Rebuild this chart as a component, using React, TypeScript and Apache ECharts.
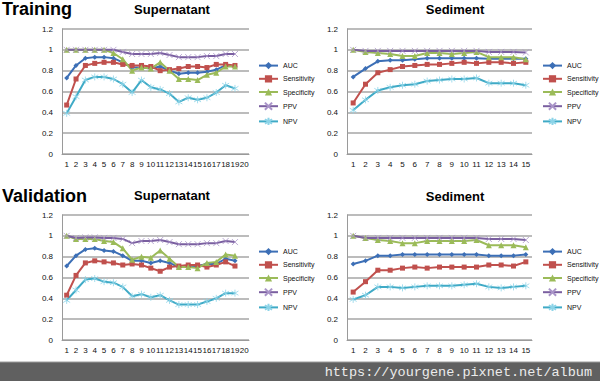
import React, { useEffect, useRef } from "react";
import * as echarts from "echarts";

const supCategories = ["1", "2", "3", "4", "5", "6", "7", "8", "9", "10", "11", "12", "13", "14", "15", "16", "17", "18", "19", "20"];
const sedCategories = ["1", "2", "3", "4", "5", "6", "7", "8", "9", "10", "11", "12", "13", "14", "15"];
const yTicks = [0, 0.2, 0.4, 0.6, 0.8, 1, 1.2];
const metricNames = ["AUC", "Sensitivity", "Specificity", "PPV", "NPV"];

// Training – Supernatant
const trainSupAUC = [0.73, 0.85, 0.92, 0.93, 0.93, 0.92, 0.88, 0.83, 0.83, 0.82, 0.84, 0.80, 0.77, 0.78, 0.78, 0.79, 0.81, 0.85, 0.84];
const trainSupSens = [0.47, 0.72, 0.85, 0.87, 0.88, 0.88, 0.86, 0.85, 0.85, 0.84, 0.80, 0.81, 0.82, 0.84, 0.84, 0.83, 0.86, 0.86, 0.85];
const trainSupSpec = [1.0, 1.0, 1.0, 1.0, 1.0, 0.97, 0.91, 0.80, 0.83, 0.82, 0.88, 0.80, 0.72, 0.72, 0.71, 0.76, 0.78, 0.84, 0.84];
const trainSupPPV = [1.0, 1.0, 1.0, 1.0, 1.0, 1.0, 0.98, 0.96, 0.96, 0.96, 0.97, 0.95, 0.93, 0.93, 0.93, 0.94, 0.94, 0.96, 0.96];
const trainSupNPV = [0.39, 0.55, 0.71, 0.74, 0.74, 0.72, 0.67, 0.59, 0.71, 0.64, 0.62, 0.58, 0.50, 0.54, 0.52, 0.54, 0.59, 0.66, 0.63];

// Training – Sediment
const trainSedAUC = [0.74, 0.82, 0.89, 0.90, 0.90, 0.91, 0.92, 0.92, 0.92, 0.92, 0.92, 0.915, 0.915, 0.915, 0.915];
const trainSedSens = [0.49, 0.67, 0.78, 0.81, 0.84, 0.85, 0.86, 0.86, 0.87, 0.88, 0.87, 0.88, 0.88, 0.87, 0.88];
const trainSedSpec = [1.0, 0.98, 0.97, 0.96, 0.94, 0.94, 0.97, 0.97, 0.96, 0.97, 0.98, 0.93, 0.93, 0.93, 0.91];
const trainSedPPV = [1.0, 0.99, 0.99, 0.99, 0.99, 0.99, 0.99, 0.99, 0.99, 0.99, 0.99, 0.98, 0.98, 0.98, 0.975];
const trainSedNPV = [0.42, 0.52, 0.61, 0.64, 0.66, 0.67, 0.70, 0.71, 0.72, 0.72, 0.73, 0.68, 0.68, 0.68, 0.66];

// Validation – Supernatant
const valSupAUC = [0.71, 0.81, 0.87, 0.88, 0.86, 0.85, 0.81, 0.76, 0.76, 0.74, 0.76, 0.74, 0.70, 0.71, 0.71, 0.73, 0.73, 0.78, 0.76];
const valSupSens = [0.43, 0.62, 0.74, 0.76, 0.75, 0.74, 0.72, 0.73, 0.72, 0.69, 0.66, 0.70, 0.71, 0.72, 0.72, 0.70, 0.72, 0.75, 0.71];
const valSupSpec = [1.0, 0.97, 0.97, 0.97, 0.95, 0.94, 0.88, 0.77, 0.80, 0.79, 0.86, 0.78, 0.70, 0.70, 0.69, 0.74, 0.75, 0.82, 0.81];
const valSupPPV = [1.0, 0.98, 0.985, 0.985, 0.98, 0.98, 0.97, 0.93, 0.95, 0.95, 0.96, 0.94, 0.92, 0.92, 0.92, 0.93, 0.93, 0.95, 0.94];
const valSupNPV = [0.38, 0.48, 0.58, 0.59, 0.56, 0.55, 0.51, 0.42, 0.44, 0.41, 0.43, 0.38, 0.34, 0.34, 0.34, 0.37, 0.40, 0.45, 0.45];

// Validation – Sediment
const valSedAUC = [0.73, 0.76, 0.81, 0.81, 0.82, 0.82, 0.82, 0.82, 0.82, 0.82, 0.82, 0.81, 0.81, 0.81, 0.82];
const valSedSens = [0.46, 0.56, 0.67, 0.67, 0.69, 0.70, 0.69, 0.70, 0.70, 0.70, 0.70, 0.72, 0.72, 0.71, 0.75];
const valSedSpec = [1.0, 0.98, 0.96, 0.95, 0.93, 0.93, 0.95, 0.95, 0.95, 0.95, 0.96, 0.91, 0.91, 0.91, 0.89];
const valSedPPV = [1.0, 0.98, 0.98, 0.98, 0.98, 0.98, 0.98, 0.98, 0.98, 0.98, 0.98, 0.97, 0.97, 0.97, 0.96];
const valSedNPV = [0.39, 0.43, 0.51, 0.51, 0.50, 0.51, 0.52, 0.52, 0.52, 0.53, 0.54, 0.51, 0.50, 0.51, 0.52];

const panelData = [
  [trainSupAUC, trainSupSens, trainSupSpec, trainSupPPV, trainSupNPV],
  [trainSedAUC, trainSedSens, trainSedSpec, trainSedPPV, trainSedNPV],
  [valSupAUC, valSupSens, valSupSpec, valSupPPV, valSupNPV],
  [valSedAUC, valSedSens, valSedSpec, valSedPPV, valSedNPV],
];

const metricStyles = [
  { color: "#3C6FB6", mark: "#3C6FB6", symbol: "diamond", size: 5, border: 0 },
  { color: "#C0504D", mark: "#C0504D", symbol: "rect", size: 5, border: 0 },
  { color: "#9BBB59", mark: "#9BBB59", symbol: "triangle", size: 6, border: 0 },
  { color: "#7A5FA0", mark: "#A994C8", symbol: "path://M0,0L10,10M10,0L0,10", size: 6, border: 0.8 },
  { color: "#3FAAC6", mark: "#8DD4E8", symbol: "path://M5,0L5,10M0,2L10,8M10,2L0,8", size: 7, border: 0.8 },
];

export default function App() {
  const ref = useRef<HTMLDivElement>(null);
  useEffect(() => {
    if (!ref.current) return;
    const chart = echarts.init(ref.current, undefined, { renderer: "svg" });
    const grids = [
      { left: 62, top: 29, width: 187, height: 125 },
      { left: 347, top: 29, width: 185, height: 125 },
      { left: 62, top: 215, width: 187, height: 125 },
      { left: 347, top: 215, width: 185, height: 125 },
    ];
    const cats = [supCategories, sedCategories, supCategories, sedCategories];
    const font = "Liberation Sans";
    const xAxis = grids.map((_, i) => ({
      type: "category",
      gridIndex: i,
      data: cats[i],
      boundaryGap: true,
      axisTick: { show: false },
      axisLine: { lineStyle: { color: "#9a9a9a", width: 1 } },
      axisLabel: { interval: 0, fontSize: 8, margin: 6, color: "#111", fontFamily: font },
    }));
    const yAxis = grids.map((_, i) => ({
      type: "value",
      gridIndex: i,
      min: yTicks[0],
      max: yTicks[yTicks.length - 1],
      interval: 0.2,
      axisTick: { show: false },
      axisLine: { show: true, lineStyle: { color: "#9a9a9a", width: 1 } },
      splitLine: { lineStyle: { color: "#a6a6a6", width: 1.5 } },
      axisLabel: { fontSize: 8, margin: 9, color: "#111", fontFamily: font },
    }));
    const series: any[] = [];
    panelData.forEach((arrs, p) => {
      arrs.forEach((d, m) => {
        const s = metricStyles[m];
        series.push({
          type: "line",
          name: metricNames[m],
          xAxisIndex: p,
          yAxisIndex: p,
          data: d,
          symbol: s.symbol,
          symbolSize: s.size,
          showSymbol: true,
          color: s.color,
          lineStyle: { color: s.color, width: 2 },
          itemStyle: { color: s.mark, borderColor: s.mark, borderWidth: s.border },
        });
      });
    });
    const legendBase = {
      orient: "vertical",
      itemWidth: 19,
      itemHeight: 9,
      itemGap: 6,
      padding: 0,
      selectedMode: false,
      data: metricNames,
      textStyle: { fontSize: 7, color: "#111", fontFamily: font },
    };
    const legend = [
      { ...legendBase, left: 258, top: 62 },
      { ...legendBase, left: 542, top: 62 },
      { ...legendBase, left: 258, top: 248 },
      { ...legendBase, left: 542, top: 248 },
    ];
    const titleText = (text: string, x: number, y: number, size: number, align: string) => ({
      type: "text",
      x,
      y,
      style: {
        text,
        font: `bold ${size}px "Liberation Sans"`,
        fill: "#000",
        textAlign: align,
        textVerticalAlign: "middle",
      },
    });
    const graphic: any[] = [
      titleText("Training", 2, 9, 18, "left"),
      titleText("Validation", 2, 196, 18, "left"),
      titleText("Supernatant", 172, 9, 13, "center"),
      titleText("Sediment", 455, 9, 13, "center"),
      titleText("Supernatant", 172, 195, 13, "center"),
      titleText("Sediment", 455, 196, 13, "center"),
      { type: "rect", shape: { x: 0, y: 362, width: 600, height: 19 }, style: { fill: "#606060" }, z: 10 },
      { type: "line", shape: { x1: 0, y1: 362, x2: 600, y2: 362 }, style: { stroke: "#9c9c9c", lineWidth: 1 }, z: 11 },
      {
        type: "text",
        x: 592,
        y: 372,
        z: 12,
        style: {
          text: "https://yourgene.pixnet.net/album",
          font: '13.5px "Liberation Mono"',
          fill: "#ececec",
          textAlign: "right",
          textVerticalAlign: "middle",
        },
      },
    ];
    chart.setOption({
      animation: false,
      backgroundColor: "#fff",
      grid: grids,
      xAxis,
      yAxis,
      legend,
      series,
      graphic,
    } as any);
    return () => chart.dispose();
  }, []);
  return <div ref={ref} style={{ position: "fixed", left: 0, top: 0, width: 600, height: 381 }} />;
}
